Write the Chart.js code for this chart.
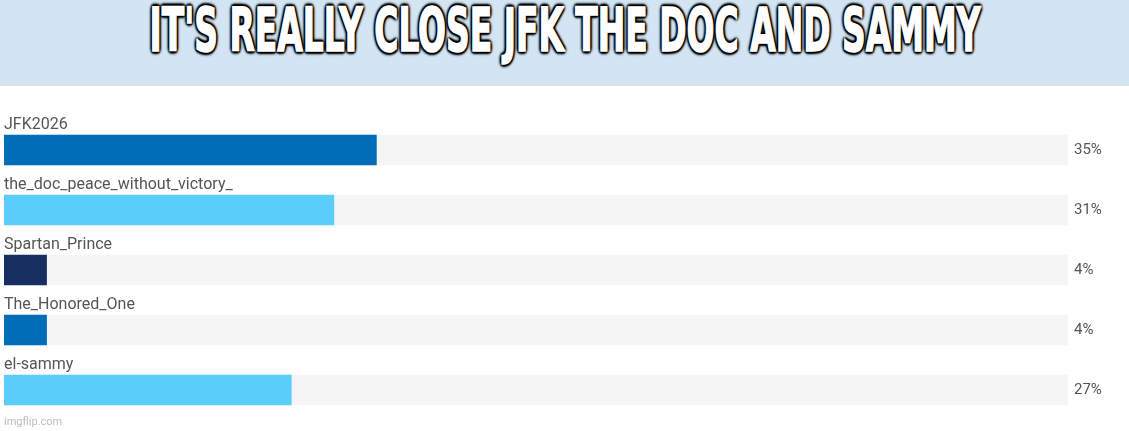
<!DOCTYPE html>
<html>
<head>
<meta charset="utf-8">
<script src="https://cdn.jsdelivr.net/npm/chart.js@4"></script>
<style>
  html, body { margin: 0; padding: 0; background: #fff; }
  body { width: 1129px; height: 431px; position: relative; overflow: hidden; }
  #banner {
    position: absolute; left: 0; top: 0; width: 1129px; height: 86px;
    background: #d3e5f2;
  }
  #title {
    position: absolute; left: 50%; top: -2px;
    font-family: "DejaVu Sans Condensed", "Liberation Sans Narrow", sans-serif;
    font-weight: bold; font-size: 60px; line-height: 64px;
    color: #fff; white-space: nowrap;
    transform-origin: center top;
    -webkit-text-stroke: 1.5px #fff;
    text-shadow: 2px 2px 2px #000, -2px -2px 2px #000, 2px -2px 2px #000, -2px 2px 2px #000,
                 0 3px 3px #000, 0 -3px 3px #000, 3px 0 3px #000, -3px 0 3px #000;
  }
  #wrap { position: absolute; left: 0; top: 86px; width: 1129px; height: 345px; }
  #mark {
    position: absolute; left: 4px; top: 415px;
    font-family: Roboto, sans-serif; font-size: 11px; color: #bbb;
  }
</style>
</head>
<body>
<div id="banner"><div id="title">IT'S REALLY CLOSE JFK THE DOC AND SAMMY</div></div>
<div id="wrap"><canvas id="chart"></canvas></div>
<div id="mark">imgflip.com</div>
<script>
// poll results (percent)
const names = ["JFK2026", "the_doc_peace_without_victory_", "Spartan_Prince", "The_Honored_One", "el-sammy"];
const votes = [35, 31, 4, 4, 27];
const track = [100, 100, 100, 100, 100];
const barColors = ["#006db6", "#5bcdfa", "#142f60", "#006db6", "#5bcdfa"];

// squeeze the title to the width of the original
const title = document.getElementById('title');
const w = title.getBoundingClientRect().width;
title.style.transform = "translateX(-50%) scaleX(" + (831 / w) + ")";

// axes should not reserve extra room above/below for their labels
function noPad(s, width) {
  s.width = width;
  s.paddingTop = 0;
  s.paddingBottom = 0;
}

const ctx = document.getElementById('chart').getContext('2d');
new Chart(ctx, {
  type: 'bar',
  data: {
    labels: names,
    datasets: [
      {
        data: votes,
        backgroundColor: barColors,
        barThickness: 30,
        grouped: false,
        order: 0,
        yAxisID: 'y'
      },
      {
        data: track,
        backgroundColor: "#f5f5f5",
        barThickness: 30,
        grouped: false,
        order: 1,
        yAxisID: 'y'
      }
    ]
  },
  options: {
    indexAxis: 'y',
    responsive: true,
    maintainAspectRatio: false,
    animation: false,
    layout: { padding: { top: 34, bottom: 11, left: 4, right: 0 } },
    plugins: {
      legend: { display: false },
      tooltip: { enabled: false }
    },
    scales: {
      x: { display: false, min: 0, max: 100 },
      y: {
        position: 'left',
        grid: { display: false, drawTicks: false },
        border: { display: false },
        afterFit: (s) => noPad(s, 0),
        ticks: {
          mirror: true,
          padding: 0,
          labelOffset: -25,
          color: "#555",
          font: { family: "Roboto", size: 16 }
        }
      },
      y2: {
        position: 'right',
        type: 'category',
        labels: votes.map(v => v + "%"),
        grid: { display: false, drawTicks: false },
        border: { display: false },
        afterFit: (s) => noPad(s, 61),
        ticks: {
          padding: 6,
          color: "#555",
          font: { family: "Roboto", size: 15 }
        }
      }
    }
  }
});
</script>
</body>
</html>
